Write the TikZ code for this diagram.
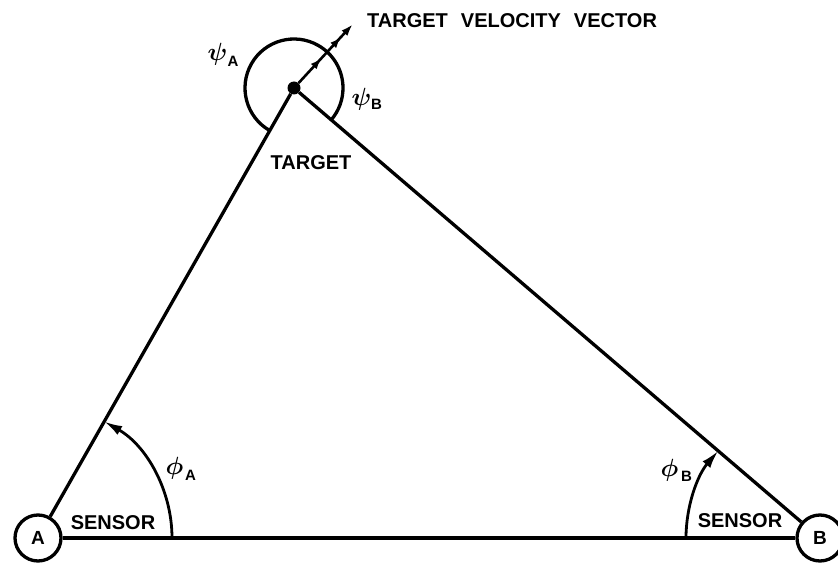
\documentclass[tikz,border=0pt]{standalone}
\usepackage{amsmath,amsbsy}
\usepackage{fontspec}
\setmainfont{Liberation Sans}
\usetikzlibrary{arrows.meta,decorations.markings}
\begin{document}
\begin{tikzpicture}[x=1pt,y=1pt,
  ln/.style={line width=3.3pt},
  lbl/.style={font=\fontsize{20}{22}\selectfont\bfseries, inner sep=0pt},
  sub/.style={font=\fontsize{15}{17}\selectfont\bfseries, inner sep=0pt},
  grk/.style={font=\fontsize{25}{28}\selectfont, inner sep=0pt},
  station/.style={circle, draw, line width=3.3pt, minimum size=46pt, inner sep=0pt, font=\fontsize{19}{21}\selectfont\bfseries},
  smalltip/.tip={Latex[length=11pt,width=8pt]}
]
\useasboundingbox (0,0) rectangle (838,563);
% sensors and target
\node[station] (A) at (38,25) {A};
\node[station] (B) at (820,25) {B};
\node[circle, fill, minimum size=13pt, inner sep=0pt] (T) at (294,475) {};
\coordinate (V) at (352.7,538.7);
% triangle
\draw[ln] (A) -- (B);
\draw[ln] (A) -- (T);
\draw[ln] (B) -- (T);
% psi arc around target
\draw[ln] ([shift={(240.36:49)}]T.center) arc[start angle=240.36, end angle=-40.55, radius=49];
% velocity vector
\draw[line width=2.6pt, -{Latex[length=12pt,width=8pt]},
  postaction={decorate},
  decoration={markings,
    mark=at position 0.42 with {\arrow{smalltip}},
    mark=at position 0.78 with {\arrow{smalltip}}}] (T) -- (V);
% phi arcs
\draw[line width=2.8pt, -{Latex[length=18pt,width=10pt]}] ([shift={(0:134)}]A.center) arc[start angle=0, end angle=60.36, radius=134];
\draw[line width=2.8pt, -{Latex[length=18pt,width=10pt]}] ([shift={(180:134)}]B.center) arc[start angle=180, end angle=139.45, radius=134];
% labels
\node[lbl] (sa) at (113,40) {SENSOR};
\node[lbl] (sb) at (740,42) {SENSOR};
\node[lbl] (tg) at (311,400.5) {TARGET};
\node[lbl, anchor=west] (tv) at (367,542.5) {TARGET\hspace{13pt}VELOCITY\hspace{13pt}VECTOR};
\node[grk] (psiA) at (217.5,508.5) {$\boldsymbol{\psi}$};
\node[sub] (psiAs) at (233,502) {A};
\node[grk] (psiB) at (361.5,464) {$\boldsymbol{\psi}$};
\node[sub] (psiBs) at (376.5,459) {B};
\node[grk] (phiA) at (174.5,95) {$\boldsymbol{\phi}$};
\node[sub] (phiAs) at (190.5,88) {A};
\node[grk] (phiB) at (669.5,92.5) {$\boldsymbol{\phi}$};
\node[sub] (phiBs) at (686.5,87) {B};
\end{tikzpicture}
\end{document}
